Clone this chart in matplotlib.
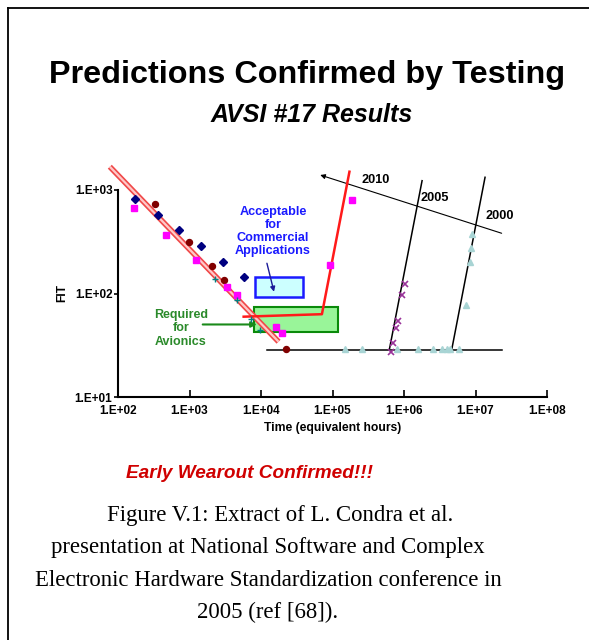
import matplotlib
matplotlib.use("Agg")
import matplotlib.pyplot as plt
from matplotlib.lines import Line2D
from matplotlib.patches import Rectangle

plt.rcParams['font.family'] = ['Liberation Sans', 'DejaVu Sans']

# ---- data ----
navy_x = [172, 359, 716, 1432, 2943, 5850]
navy_y = [819, 573, 408, 288, 203, 144]

maroon_x = [327, 997, 2044, 3070, 22300]
maroon_y = [733, 315, 185, 134, 29.3]

magenta_x = [168, 471, 1236, 3380, 4620, 16200, 19600, 92000, 186800]
magenta_y = [665, 367, 209, 116, 97.3, 47.4, 41.8, 188, 806]

teal_x = [2300, 4620, 7160, 9550]
teal_y = [138, 85.9, 56.7, 44]

tri_x = [150000, 260000, 793000, 1.59e6, 2.57e6, 3.37e6, 3.96e6, 4.41e6, 5.94e6,
         9.02e6, 8.73e6, 8.45e6, 7.29e6]
tri_y = [29.3, 29.3, 29.3, 29.3, 29.3, 29.3, 29.3, 29.3, 29.3,
         376, 273, 203, 76.9]

purple_x = [1.03e6, 951000, 819000, 783000, 711000, 667000]
purple_y = [124, 96.1, 53.8, 46.1, 33.3, 27.2]

# overlay lines
trend_x = [76.8, 17600]
trend_y = [1679, 34.2]
base_x = [12100, 2.32e7]
base_y = [28.3, 28.3]
line2010_x = [5720, 71100, 172600]
line2010_y = [59.7, 63.1, 1502]
line2005_x = [625000, 1.79e6]
line2005_y = [28.9, 1230]
line2000_x = [4.66e6, 1.36e7]
line2000_y = [28.9, 1327]
time_arrow_from = (2.32e7, 382)
time_arrow_to = (67300, 1396)

box_accept = (8320, 38100, 91.8, 145)
box_avionics = (7880, 119000, 42.2, 74.5)

xticks = [1e2, 1e3, 1e4, 1e5, 1e6, 1e7, 1e8]
xtick_labels = ['1.E+02', '1.E+03', '1.E+04', '1.E+05', '1.E+06', '1.E+07', '1.E+08']
yticks = [1e1, 1e2, 1e3]
ytick_labels = ['1.E+01', '1.E+02', '1.E+03']

W, H = 589, 640
fig = plt.figure(figsize=(W / 100, H / 100), dpi=100)
fig.patch.set_facecolor('white')

# frame lines
fig.add_artist(Line2D([7.5 / W, 7.5 / W], [0, 1 - 7.5 / H], color='black', lw=1.3))
fig.add_artist(Line2D([7.5 / W, 1], [1 - 7.5 / H, 1 - 7.5 / H], color='black', lw=1.3))

ax = fig.add_axes([118 / W, 1 - 397 / H, (547 - 118) / W, (397 - 190) / H])
ax.set_xscale('log')
ax.set_yscale('log')
ax.set_xlim(1e2, 1e8)
ax.set_ylim(1e1, 1e3)
ax.minorticks_off()
for s in ['top', 'right']:
    ax.spines[s].set_visible(False)
for s in ['left', 'bottom']:
    ax.spines[s].set_linewidth(1.5)
ax.set_xticks(xticks)
ax.set_xticklabels(xtick_labels, fontsize=8.5, fontweight='bold')
ax.set_yticks(yticks)
ax.set_yticklabels(ytick_labels, fontsize=8.5, fontweight='bold')
ax.tick_params(axis='x', direction='in', length=5, width=1.2, pad=6)
ax.tick_params(axis='y', direction='out', length=3, width=1.2, pad=1)
ax.set_xlabel('Time (equivalent hours)', fontsize=8.7, fontweight='bold', labelpad=3)
ax.set_ylabel('FIT', fontsize=8.7, fontweight='bold', labelpad=5)

# boxes
ax.add_patch(Rectangle((box_accept[0], box_accept[2]), box_accept[1] - box_accept[0],
                       box_accept[3] - box_accept[2], facecolor='#ccffff',
                       edgecolor='#1a1aff', lw=1.8, zorder=2))
ax.add_patch(Rectangle((box_avionics[0], box_avionics[2]), box_avionics[1] - box_avionics[0],
                       box_avionics[3] - box_avionics[2], facecolor='#99f599',
                       edgecolor='#0a8a0a', lw=1.5, zorder=2))

# trend double line
ax.plot(trend_x, trend_y, color='#f04848', lw=4, clip_on=False, zorder=3,
        solid_capstyle='butt')
ax.plot(trend_x, trend_y, color='#ffc8c8', lw=1.6, clip_on=False, zorder=3,
        solid_capstyle='butt')

# black lines
ax.plot(base_x, base_y, color='black', lw=1.1, zorder=3)
ax.plot(line2005_x, line2005_y, color='black', lw=1.1, clip_on=False, zorder=3)
ax.plot(line2000_x, line2000_y, color='black', lw=1.1, clip_on=False, zorder=3)
ax.annotate('', xy=time_arrow_to, xytext=time_arrow_from,
            arrowprops=dict(arrowstyle='-|>', color='black', lw=0.8,
                            mutation_scale=7, shrinkA=0, shrinkB=0),
            annotation_clip=False, zorder=3)

# red 2010 line
ax.plot(line2010_x, line2010_y, color='#ff1a1a', lw=1.8, clip_on=False, zorder=4)

# markers
ax.plot(navy_x, navy_y, 'D', color='#000080', ms=4.2, ls='none', zorder=5, clip_on=False)
ax.plot(maroon_x, maroon_y, 'o', color='#800000', ms=4.3, ls='none', zorder=5, clip_on=False)
ax.plot(magenta_x, magenta_y, 's', color='#ff00ff', ms=4.8, ls='none', zorder=5, clip_on=False)
ax.plot(teal_x, teal_y, '+', color='#008080', ms=4.5, mew=1, ls='none', zorder=5)
ax.plot(tri_x, tri_y, '^', color='#a8d4d4', ms=4.5, ls='none', zorder=5)
ax.plot(purple_x, purple_y, 'x', color='#993399', ms=4, mew=1.2, ls='none', zorder=5)

# labels on chart
ax.text(4.07e5, 1250, '2010', fontsize=9.2, fontweight='bold', ha='center', va='center')
ax.text(2.72e6, 837, '2005', fontsize=9.2, fontweight='bold', ha='center', va='center')
ax.text(2.2e7, 561, '2000', fontsize=9.2, fontweight='bold', ha='center', va='center')

ax.text(14700, 395, 'Acceptable\nfor\nCommercial\nApplications', fontsize=9.1,
        fontweight='bold', color='#1a1aff', ha='center', va='center', linespacing=1.1)
ax.annotate('', xy=(15200, 104), xytext=(12100, 196),
            arrowprops=dict(arrowstyle='-|>', color='#1a1a99', lw=1,
                            mutation_scale=7, shrinkA=0, shrinkB=0))
ax.text(753, 46.1, 'Required\nfor\nAvionics', fontsize=9, fontweight='bold',
        color='#2a8a2a', ha='center', va='center', linespacing=1.15)
ax.annotate('', xy=(8770, 50.2), xytext=(1530, 50.2),
            arrowprops=dict(arrowstyle='-|>', color='#1a8a1a', lw=1.5,
                            mutation_scale=8, shrinkA=0, shrinkB=0))

# titles
fig.text(307 / W, 1 - 75 / H, 'Predictions Confirmed by Testing', fontsize=23.3,
         fontweight='bold', ha='center', va='center')
fig.text(312 / W, 1 - 115 / H, 'AVSI #17 Results', fontsize=18,
         fontweight='bold', style='italic', ha='center', va='center')
fig.text(250 / W, 1 - 473 / H, 'Early Wearout Confirmed!!!', fontsize=13.7,
         fontweight='bold', style='italic', color='#d00000', ha='center', va='center')

serif = ['Liberation Serif', 'DejaVu Serif']
fig.text(107 / W, 1 - 516 / H, 'Figure V.1: Extract of L. Condra et al.', fontsize=16.4,
         family=serif, ha='left', va='center')
fig.text(268 / W, 1 - 548 / H, 'presentation at National Software and Complex', fontsize=16.4,
         family=serif, ha='center', va='center')
fig.text(268 / W, 1 - 580 / H, 'Electronic Hardware Standardization conference in', fontsize=16.4,
         family=serif, ha='center', va='center')
fig.text(268 / W, 1 - 612 / H, '2005 (ref [68]).', fontsize=16.4,
         family=serif, ha='center', va='center')

fig.savefig('out.png', dpi=100)
